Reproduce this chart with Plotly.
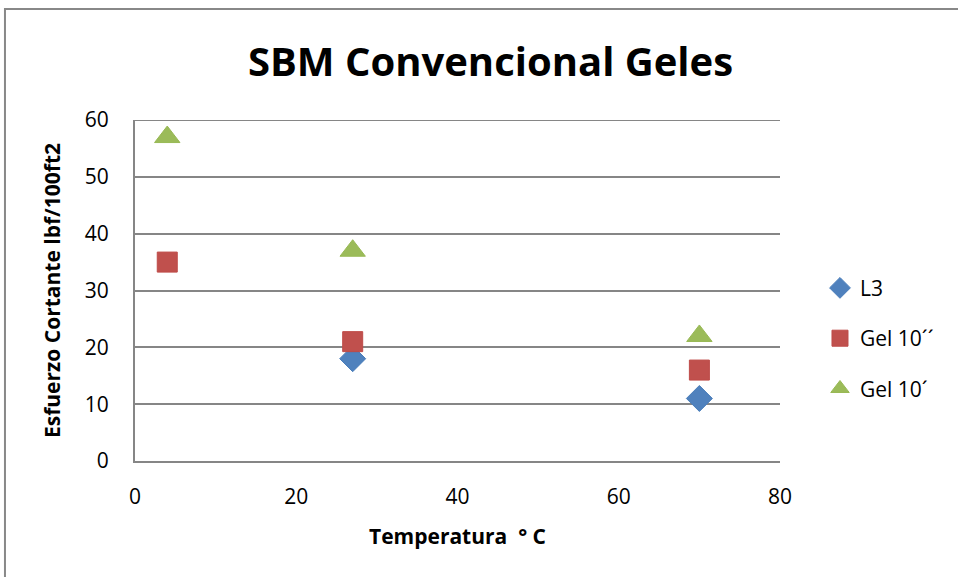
import plotly.graph_objects as go

temps = [4, 27, 70]
l3_x = [27, 70]
l3_y = [18, 11]
gel10s_y = [35, 21, 16]
gel10m_y = [57, 37, 22]
y_max = 60

font_family = "Open Sans, Liberation Sans, Arial"

fig = go.Figure()
fig.add_trace(go.Scatter(x=l3_x, y=l3_y, mode="markers", name="L3", legendgroup="a",
                         marker=dict(symbol="diamond", size=20, color="#4F81BD",
                                     line=dict(width=1, color="#4A7EBB"))))
fig.add_trace(go.Scatter(x=temps, y=gel10s_y, mode="markers", name="Gel 10´´", legendgroup="b",
                         marker=dict(symbol="square", size=20, color="#C0504D",
                                     line=dict(width=1, color="#BE4B48"))))
fig.add_trace(go.Scatter(x=temps, y=gel10m_y, mode="markers", name="Gel 10´", legendgroup="c",
                         marker=dict(symbol="triangle-up", size=22, color="#9BBB59",
                                     line=dict(width=1, color="#98B954"))))

grid = "#868686"
fig.update_layout(
    width=958, height=577,
    margin=dict(l=135, r=178, t=120, b=116),
    paper_bgcolor="white", plot_bgcolor="white",
    font=dict(family=font_family, size=20, color="black"),
    title=dict(text="<b>SBM Convencional Geles</b>", x=0.512, xanchor="center",
               y=0.893, yanchor="middle", font=dict(size=40, family=font_family)),
    xaxis=dict(range=[0, 80], dtick=20, showgrid=False, zeroline=False,
               showline=True, linecolor=grid, linewidth=2, ticks="",
               ticklabelstandoff=16, tickfont=dict(size=21),
               title=dict(text="<b>Temperatura \u00a0° C</b>", font=dict(size=21), standoff=20)),
    yaxis=dict(range=[0, y_max], dtick=10, showgrid=True, gridcolor=grid, gridwidth=2,
               zeroline=False, showline=True, linecolor=grid, linewidth=2, ticks="",
               ticklabelstandoff=20, tickfont=dict(size=21),
               title=dict(text="<b>Esfuerzo Cortante lbf/100ft2</b>", font=dict(size=21), standoff=18)),
    legend=dict(x=1.062, y=0.36, xanchor="left", yanchor="middle",
                font=dict(size=21), tracegroupgap=20, traceorder="grouped",
                bgcolor="rgba(0,0,0,0)", itemwidth=30),
    shapes=[
        dict(type="line", xref="paper", yref="y", x0=0, x1=1, y0=y_max, y1=y_max,
             line=dict(color=grid, width=2), layer="below"),
        dict(type="rect", xref="paper", yref="paper",
             x0=-0.2016, y0=-0.6, x1=1.6, y1=1.3255,
             line=dict(color="#888888", width=2), fillcolor="rgba(0,0,0,0)", layer="below"),
    ],
)

fig.write_html("out.html", config={"displayModeBar": False},
               post_script="document.body.style.margin='0';")
